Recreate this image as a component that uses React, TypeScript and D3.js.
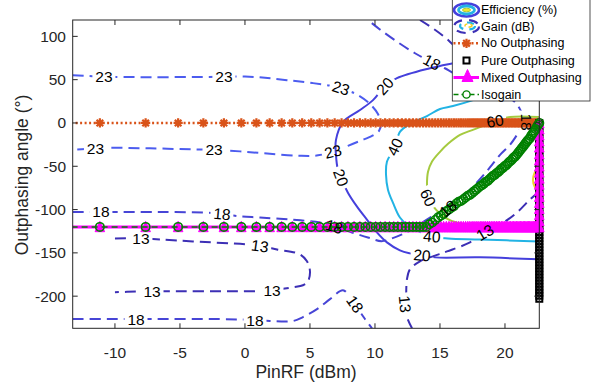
import React from 'react';
import * as d3 from 'd3';

type Pt = [number, number];
type Lbl = [number, number, number]; // x, y, rotation (deg)

const W = 600;
const H = 385;
const plot = { left: 72.7, right: 539.3, top: 20, bottom: 328.3 };
const font = "'Liberation Sans', Arial, Helvetica, sans-serif";

const xTicks = [-10, -5, 0, 5, 10, 15, 20];
const yTicks = [-200, -150, -100, -50, 0, 50, 100];

// PinRF sweep (dBm) shared by the no-outphasing, mixed and isogain traces
const pinRF = [
  -17.18, -11.16, -7.64, -5.14, -3.2, -1.62, -0.28, 0.88, 1.9, 2.82,
  3.64, 4.4, 5.1, 5.74, 6.34, 6.9, 7.43, 7.92, 8.39, 8.84,
  9.26, 9.67, 10.05, 10.42, 10.78, 11.12, 11.44, 11.76, 12.07, 12.36,
  12.64, 12.92, 13.19, 13.45, 13.7, 13.94, 14.18, 14.41, 14.64, 14.86,
  15.07, 15.28, 15.49, 15.69, 15.88, 16.07, 16.26, 16.44, 16.62, 16.8,
  16.97, 17.14, 17.3, 17.47, 17.62, 17.78, 17.93, 18.09, 18.23, 18.38,
  18.52, 18.67, 18.8, 18.94, 19.08, 19.21, 19.34, 19.47, 19.59, 19.72,
  19.84, 19.96, 20.08, 20.2, 20.32, 20.43, 20.55, 20.66, 20.77, 20.88,
  20.99, 21.09, 21.2, 21.3, 21.41, 21.51, 21.61, 21.71, 21.81, 21.9,
  22.0, 22.09, 22.19, 22.28, 22.37, 22.46, 22.55, 22.64,
];
const noOutphasingAngle = 0;
const mixedBackoffAngle = -120;
// mixed outphasing at the top input power
const mixedSatAngle = [-113, -106, -99, -92, -85, -78, -71, -64, -57, -50, -43, -36, -28, -21, -14, -7, 0];
// pure outphasing at the top input power
const pureOutAngle = [
  0, -3.5, -7, -10.5, -14, -17.5, -21, -24.5, -28, -31.5, -35, -38.5, -42, -45.5, -49,
  -52.5, -56, -59.5, -63, -66.5, -70, -73.5, -77, -80.5, -84, -87.5, -91, -94.5, -98,
  -101.5, -105, -108.5, -112, -115.5, -119, -122.5, -126, -129.5, -133, -136.5, -140,
  -143.5, -147, -150.5, -154, -157.5, -161, -164.5, -168, -171.5, -175, -178.5, -182,
  -185.5, -189, -192.5, -196, -199.5, -203,
];
const isogainAngle = [
  -120, -120, -120, -120, -120, -120, -120, -120, -120, -120,
  -120, -120, -120, -120, -120, -120, -120, -120, -120, -120,
  -120, -120, -120, -120, -120, -120, -120, -120, -120, -120,
  -120, -120, -120, -120, -120, -120,
  -117, -115, -112, -109, -107, -105, -102, -100, -98, -96,
  -93, -91, -90, -88, -86, -84, -83, -81, -79, -77,
  -75, -73, -72, -70, -68, -67, -65, -63, -61, -60,
  -58, -57, -55, -53, -52, -50, -49, -47, -45, -44,
  -42, -40, -39, -37, -35, -33, -31, -29, -27, -25,
  -23, -21, -19, -18, -15, -13, -11, -9, -7, -4, -2, 0,
];

// efficiency contours (%), solid
const eff20: Pt[] = [
  [22.64, 89.7], [19.23, 78.2], [16.0, 69.0], [14.23, 63.2], [11.69, 51.7], [10.77, 42.5],
  [9.85, 26.4], [8.85, 14.9], [7.54, 1.1], [7.0, -19.5], [7.0, -36.8], [7.15, -54.0],
  [7.38, -63.2], [7.92, -80.5], [8.62, -96.6], [9.38, -111.5], [10.15, -126.4], [10.92, -137.9],
  [11.92, -147.1], [12.69, -150.6], [13.62, -152.9], [14.62, -155.2], [18.08, -155.2], [22.64, -157.5],
];
const eff20Labels: Lbl[] = [[10.77, 42.5, -48], [7.38, -63.2, 70], [13.62, -152.9, 5]];
const eff40: Pt[] = [
  [22.64, 51.7], [19.62, 37.9], [17.54, 26.4], [16.0, 19.5], [15.0, 16.1], [14.0, 8.0],
  [12.69, -1.1], [11.92, -10.3], [11.54, -27.6], [10.92, -44.8], [10.85, -59.8], [11.0, -77.0],
  [11.38, -92.0], [11.92, -109.2], [12.54, -118.4], [13.23, -124.1], [14.38, -131.0],
  [15.62, -133.3], [18.08, -134.5], [22.64, -136.8],
];
const eff40Labels: Lbl[] = [[11.54, -27.6, -65], [14.38, -131.0, 5]];
const eff60: Pt[] = [
  [22.64, 6.9], [20.38, 6.9], [19.23, 2.3], [18.31, -3.4], [17.31, -9.2], [16.54, -13.8],
  [15.62, -24.1], [15.0, -33.3], [14.38, -44.8], [14.08, -56.3], [14.0, -71.3], [14.08, -86.2],
  [14.69, -100.0], [15.38, -109.2], [16.54, -116.1], [19.62, -118.4], [22.64, -118.4],
];
const eff60Labels: Lbl[] = [[19.23, 2.3, -10], [14.08, -86.2, 65]];
const eff80: Pt[] = [[22.64, -48.3], [22.31, -56.3], [22.15, -65.5], [22.31, -74.7], [22.64, -80.5]];

// gain contours (dB), dashed
const gain23: Pt[] = [
  [-13.25, 55.2], [-10.85, 53.4], [-7.31, 52.9], [-2.92, 53.2], [-1.62, 53.4], [0, 53.6],
  [1.54, 52.3], [3.23, 49.4], [5.23, 46.0], [7.38, 40.3], [8.69, 32.2], [9.62, 21.8],
  [10.23, 10.3], [10.46, -1.1], [10.31, -9.2], [9.77, -14.9], [8.85, -20.7], [7.92, -26.4],
  [6.77, -33.0], [5.62, -37.4], [4.23, -37.9], [1.92, -35.6], [-0.38, -32.8], [-2.38, -31.0],
  [-4.0, -30.5], [-7.31, -29.3], [-10.15, -28.7], [-11.5, -29.3], [-13.25, -31.0],
];
const gain23Labels: Lbl[] = [
  [-10.85, 53.4, 0], [-1.62, 53.4, 0], [7.38, 40.3, 18],
  [-11.5, -29.3, 0], [-2.38, -31.0, 0], [6.77, -33.0, -14],
];
const gain18: Pt[] = [
  [-13.25, -102.9], [-11.08, -102.6], [-10.15, -102.7], [-6.54, -102.9], [-3.08, -103.4],
  [-1.77, -105.0], [-0.54, -107.5], [1.15, -109.2], [3.46, -111.5], [5.77, -114.9],
  [6.85, -119.5], [8.23, -126.4], [9.46, -132.2], [10.5, -136.5], [11.31, -133.3],
  [12.08, -128.7], [13.08, -120.7], [14.23, -109.2], [15.62, -98.9], [16.38, -88.5],
  [17.31, -77.0], [18.31, -60.9], [19.0, -48.3], [19.62, -36.8], [20.38, -25.3],
  [20.92, -13.8], [21.23, -6.0], [21.62, 1.1], [21.23, 13.8], [20.77, 24.1], [19.62, 34.5],
  [18.08, 46.0], [16.54, 55.2], [15.92, 58.6], [15.38, 63.2], [14.38, 70.1], [13.08, 80.5],
  [11.77, 93.1], [10.38, 108.0], [9.46, 118.9],
];
const gain18Labels: Lbl[] = [
  [-11.08, -102.6, 0], [-1.77, -105.0, 5], [6.85, -119.5, 17],
  [15.62, -98.9, -40], [21.62, 1.1, 90], [14.38, 70.1, 28],
];
const gain18Low: Pt[] = [
  [-13.25, -226.4], [-9.38, -226.4], [-8.38, -226.4], [-6.77, -226.4], [-1.92, -226.4],
  [0.77, -227.6], [1.92, -228.7], [3.69, -228.7], [4.46, -224.1], [5.54, -215.0],
  [6.54, -203.4], [7.54, -193.1], [8.08, -201.2], [8.46, -209.2], [9.23, -226.4], [9.77, -237.1],
];
const gain18LowLabels: Lbl[] = [[-8.38, -226.4, 0], [0.77, -227.6, 0], [8.46, -209.2, 55]];
const gain13Left: Pt[] = [
  [-10.0, -133.3], [-8.0, -133.3], [-6.54, -134.5], [-4.0, -136.8], [0.15, -140.2],
  [1.15, -142.0], [2.46, -146.0], [4.23, -151.7], [4.77, -159.8], [5.0, -171.3],
  [4.85, -182.8], [4.46, -187.4], [3.69, -189.7], [2.08, -193.1], [0.92, -194.3],
  [-1.15, -194.3], [-5.77, -194.3], [-7.15, -194.3], [-9.08, -195.0], [-10.0, -195.4],
];
const gain13LeftLabels: Lbl[] = [[-8.0, -133.3, 0], [1.15, -142.0, 8], [2.08, -193.1, 0], [-7.15, -194.3, 0]];
const gain13Right: Pt[] = [
  [22.64, -79.3], [21.92, -88.5], [21.0, -102.3], [20.0, -113.8], [18.46, -126.4],
  [17.31, -137.9], [15.54, -148.3], [14.46, -154.0], [13.46, -159.8], [12.69, -169.0],
  [12.46, -180.5], [12.38, -203.4], [12.31, -209.2], [12.46, -224.1], [12.85, -237.1],
];
const gain13RightLabels: Lbl[] = [[18.46, -126.4, -30], [12.31, -209.2, 85]];
const gain13Top: Pt[] = [[13.46, 118.9], [14.46, 109.2], [15.38, 98.9], [16.54, 83.9], [18.85, 63.2], [22.64, 40.2]];

const effColor: Record<number, string> = { 20: '#4540dc', 40: '#22b3e4', 60: '#a5ca3f', 80: '#f2d32b' };
const gainColor: Record<number, string> = { 13: '#3c2fb5', 18: '#4745d6', 23: '#4c5cef' };
const orange = '#d95319';
const magenta = '#ff00ff';
const green = '#008000';
const axisColor = '#262626';

const x = d3.scaleLinear().domain([-13.25, 22.64]).range([plot.left, plot.right]);
const y = d3.scaleLinear().domain([-237.1, 118.9]).range([plot.bottom, plot.top]);

const contourLine = d3
  .line<Pt>()
  .x(d => x(d[0]))
  .y(d => y(d[1]))
  .curve(d3.curveCatmullRom.alpha(0.5));
const straight = d3
  .line<Pt>()
  .x(d => x(d[0]))
  .y(d => y(d[1]));

const asterisk = 'M-4.6,0H4.6M0,-4.6V4.6M-3.3,-3.3L3.3,3.3M-3.3,3.3L3.3,-3.3';
const triangle = 'M0,-5.6L4.8,4.8L-4.8,4.8Z';

export default function App() {
  const contours = [
    { id: 'e20', pts: eff20, labels: eff20Labels, text: '20', color: effColor[20], dash: undefined },
    { id: 'e40', pts: eff40, labels: eff40Labels, text: '40', color: effColor[40], dash: undefined },
    { id: 'e60', pts: eff60, labels: eff60Labels, text: '60', color: effColor[60], dash: undefined },
    { id: 'e80', pts: eff80, labels: [] as Lbl[], text: '80', color: effColor[80], dash: undefined },
    { id: 'g23', pts: gain23, labels: gain23Labels, text: '23', color: gainColor[23], dash: '11,6' },
    { id: 'g18', pts: gain18, labels: gain18Labels, text: '18', color: gainColor[18], dash: '11,6' },
    { id: 'g18b', pts: gain18Low, labels: gain18LowLabels, text: '18', color: gainColor[18], dash: '11,6' },
    { id: 'g13a', pts: gain13Left, labels: gain13LeftLabels, text: '13', color: gainColor[13], dash: '11,6' },
    { id: 'g13b', pts: gain13Right, labels: gain13RightLabels, text: '13', color: gainColor[13], dash: '11,6' },
    { id: 'g13c', pts: gain13Top, labels: [] as Lbl[], text: '13', color: gainColor[13], dash: '11,6' },
  ];

  const xMin = x.domain()[0];
  const pinMax = pinRF[pinRF.length - 1];

  const noOutPts: Pt[] = pinRF.map(p => [p, noOutphasingAngle]);
  const purePts: Pt[] = pureOutAngle.map(a => [pinMax, a]);
  const mixedPts: Pt[] = [
    ...pinRF.map(p => [p, mixedBackoffAngle] as Pt),
    ...mixedSatAngle.map(a => [pinMax, a] as Pt),
  ];
  const isoPts: Pt[] = pinRF.map((p, i) => [p, isogainAngle[i]]);
  const visible = (pts: Pt[]) => pts.filter(d => d[0] >= xMin);

  const legendRows = [10, 26.5, 43.3, 60.5, 77.5, 94.5];
  const legendNames = ['Efficiency (%)', 'Gain (dB)', 'No Outphasing', 'Pure Outphasing', 'Mixed Outphasing', 'Isogain'];
  const ix = 466.5;

  return (
    <svg width={W} height={H} style={{ position: 'absolute', left: 0, top: 0, fontFamily: font }}>
      <defs>
        <clipPath id="plotClip">
          <rect x={plot.left} y={plot.top} width={plot.right - plot.left} height={plot.bottom - plot.top} />
        </clipPath>
        {contours.map(c => (
          <mask key={c.id} id={`mask-${c.id}`} maskUnits="userSpaceOnUse" x={0} y={0} width={W} height={H}>
            <rect width={W} height={H} fill="white" />
            {c.labels.map((l, i) => (
              <rect
                key={i}
                x={-11.5}
                y={-7}
                width={23}
                height={14}
                fill="black"
                transform={`translate(${x(l[0])},${y(l[1])}) rotate(${l[2]})`}
              />
            ))}
          </mask>
        ))}
      </defs>

      {/* contours */}
      <g clipPath="url(#plotClip)">
        {contours.map(c => (
          <path
            key={c.id}
            d={contourLine(c.pts) || ''}
            fill="none"
            stroke={c.color}
            strokeWidth={2}
            strokeDasharray={c.dash}
            mask={`url(#mask-${c.id})`}
          />
        ))}
      </g>

      {/* No outphasing */}
      <path d={straight(noOutPts) || ''} clipPath="url(#plotClip)" fill="none" stroke={orange} strokeWidth={2.5} strokeDasharray="2,2.5" />
      {visible(noOutPts).map((d, i) => (
        <path key={i} d={asterisk} transform={`translate(${x(d[0])},${y(d[1])})`} stroke={orange} strokeWidth={2.2} fill="none" />
      ))}

      {/* Pure outphasing */}
      <path d={straight(purePts) || ''} fill="none" stroke="#000" strokeWidth={2} />
      {purePts.map((d, i) => (
        <rect key={i} x={x(d[0]) - 3} y={y(d[1]) - 3} width={6} height={6} fill="none" stroke="#000" strokeWidth={2} />
      ))}

      {/* Mixed outphasing */}
      <path d={straight(mixedPts) || ''} clipPath="url(#plotClip)" fill="none" stroke={magenta} strokeWidth={3} />
      {visible(mixedPts).map((d, i) => (
        <path key={i} d={triangle} transform={`translate(${x(d[0])},${y(d[1])})`} fill={magenta} stroke={magenta} strokeWidth={1} />
      ))}

      {/* Isogain */}
      <path d={straight(isoPts) || ''} clipPath="url(#plotClip)" fill="none" stroke={green} strokeWidth={1.5} strokeDasharray="6,4" />
      {visible(isoPts).map((d, i) => (
        <circle key={i} cx={x(d[0])} cy={y(d[1])} r={4.2} fill="none" stroke={green} strokeWidth={1.6} />
      ))}

      {/* contour labels (text sits above the traces) */}
      {contours.map(c =>
        c.labels.map((l, i) => (
          <text
            key={`${c.id}-${i}`}
            transform={`translate(${x(l[0])},${y(l[1])}) rotate(${l[2]})`}
            textAnchor="middle"
            dominantBaseline="central"
            fontSize={15.5}
            fill="#000"
          >
            {c.text}
          </text>
        ))
      )}

      {/* axes box and ticks */}
      <rect
        x={plot.left}
        y={plot.top}
        width={plot.right - plot.left}
        height={plot.bottom - plot.top}
        fill="none"
        stroke={axisColor}
        strokeWidth={1}
      />
      {xTicks.map(t => (
        <g key={`xt${t}`} stroke={axisColor} strokeWidth={1}>
          <line x1={x(t)} x2={x(t)} y1={plot.bottom} y2={plot.bottom - 5} />
          <line x1={x(t)} x2={x(t)} y1={plot.top} y2={plot.top + 5} />
        </g>
      ))}
      {yTicks.map(t => (
        <g key={`yt${t}`} stroke={axisColor} strokeWidth={1}>
          <line x1={plot.left} x2={plot.left + 5} y1={y(t)} y2={y(t)} />
          <line x1={plot.right} x2={plot.right - 5} y1={y(t)} y2={y(t)} />
        </g>
      ))}
      {xTicks.map(t => (
        <text key={`xl${t}`} x={x(t)} y={352} textAnchor="middle" dominantBaseline="central" fontSize={15.5} fill={axisColor}>
          {t}
        </text>
      ))}
      {yTicks.map(t => (
        <text key={`yl${t}`} x={66} y={y(t)} textAnchor="end" dominantBaseline="central" fontSize={15.5} fill={axisColor}>
          {t}
        </text>
      ))}
      <text x={306} y={372} textAnchor="middle" dominantBaseline="central" fontSize={17.5} fill={axisColor}>
        PinRF (dBm)
      </text>
      <text
        transform="translate(22,175) rotate(-90)"
        textAnchor="middle"
        dominantBaseline="central"
        fontSize={17.5}
        fill={axisColor}
      >
        Outphasing angle (°)
      </text>

      {/* legend */}
      <g>
        <rect x={452.3} y={-1} width={137.7} height={102} fill="#fff" stroke={axisColor} strokeWidth={0.8} />
        {/* efficiency icon */}
        <ellipse cx={ix} cy={legendRows[0]} rx={12.5} ry={6.5} fill="none" stroke={effColor[20]} strokeWidth={2.5} />
        <ellipse cx={ix} cy={legendRows[0]} rx={8} ry={4} fill="none" stroke={effColor[40]} strokeWidth={2.8} />
        <ellipse cx={ix} cy={legendRows[0]} rx={4} ry={1.8} fill="#f2e62a" stroke={effColor[60]} strokeWidth={1} />
        {/* gain icon */}
        <ellipse cx={ix} cy={legendRows[1]} rx={12.5} ry={6.5} fill="none" stroke={gainColor[13]} strokeWidth={2.2} strokeDasharray="9,7" />
        <ellipse cx={ix + 1} cy={legendRows[1] - 0.5} rx={7.5} ry={3.5} fill="none" stroke={effColor[40]} strokeWidth={2.2} strokeDasharray="7,6" />
        <ellipse cx={ix + 2} cy={legendRows[1] - 1} rx={3.5} ry={1.6} fill="none" stroke={effColor[80]} strokeWidth={1.6} strokeDasharray="4,3" />
        {/* no outphasing */}
        <line x1={453.5} x2={479} y1={legendRows[2]} y2={legendRows[2]} stroke={orange} strokeWidth={2.5} strokeDasharray="2,2.5" />
        <path d={asterisk} transform={`translate(${ix},${legendRows[2]})`} stroke={orange} strokeWidth={2.2} fill="none" />
        {/* pure outphasing */}
        <rect x={ix - 3} y={legendRows[3] - 3} width={6} height={6} fill="#fff" stroke="#000" strokeWidth={2} />
        {/* mixed outphasing */}
        <line x1={453.5} x2={479} y1={legendRows[4]} y2={legendRows[4]} stroke={magenta} strokeWidth={3} />
        <path d="M0,-8L5.5,4L-5.5,4Z" transform={`translate(${ix + 1},${legendRows[4]})`} fill={magenta} stroke={magenta} strokeWidth={1} />
        {/* isogain */}
        <line x1={453.5} x2={479} y1={legendRows[5]} y2={legendRows[5]} stroke={green} strokeWidth={1.5} strokeDasharray="5,3" />
        <circle cx={ix} cy={legendRows[5]} r={3.6} fill="#fff" stroke={green} strokeWidth={1.4} />
        {legendNames.map((n, i) => (
          <text key={n} x={481} y={legendRows[i]} dominantBaseline="central" fontSize={12.5} fill="#000">
            {n}
          </text>
        ))}
      </g>
    </svg>
  );
}
